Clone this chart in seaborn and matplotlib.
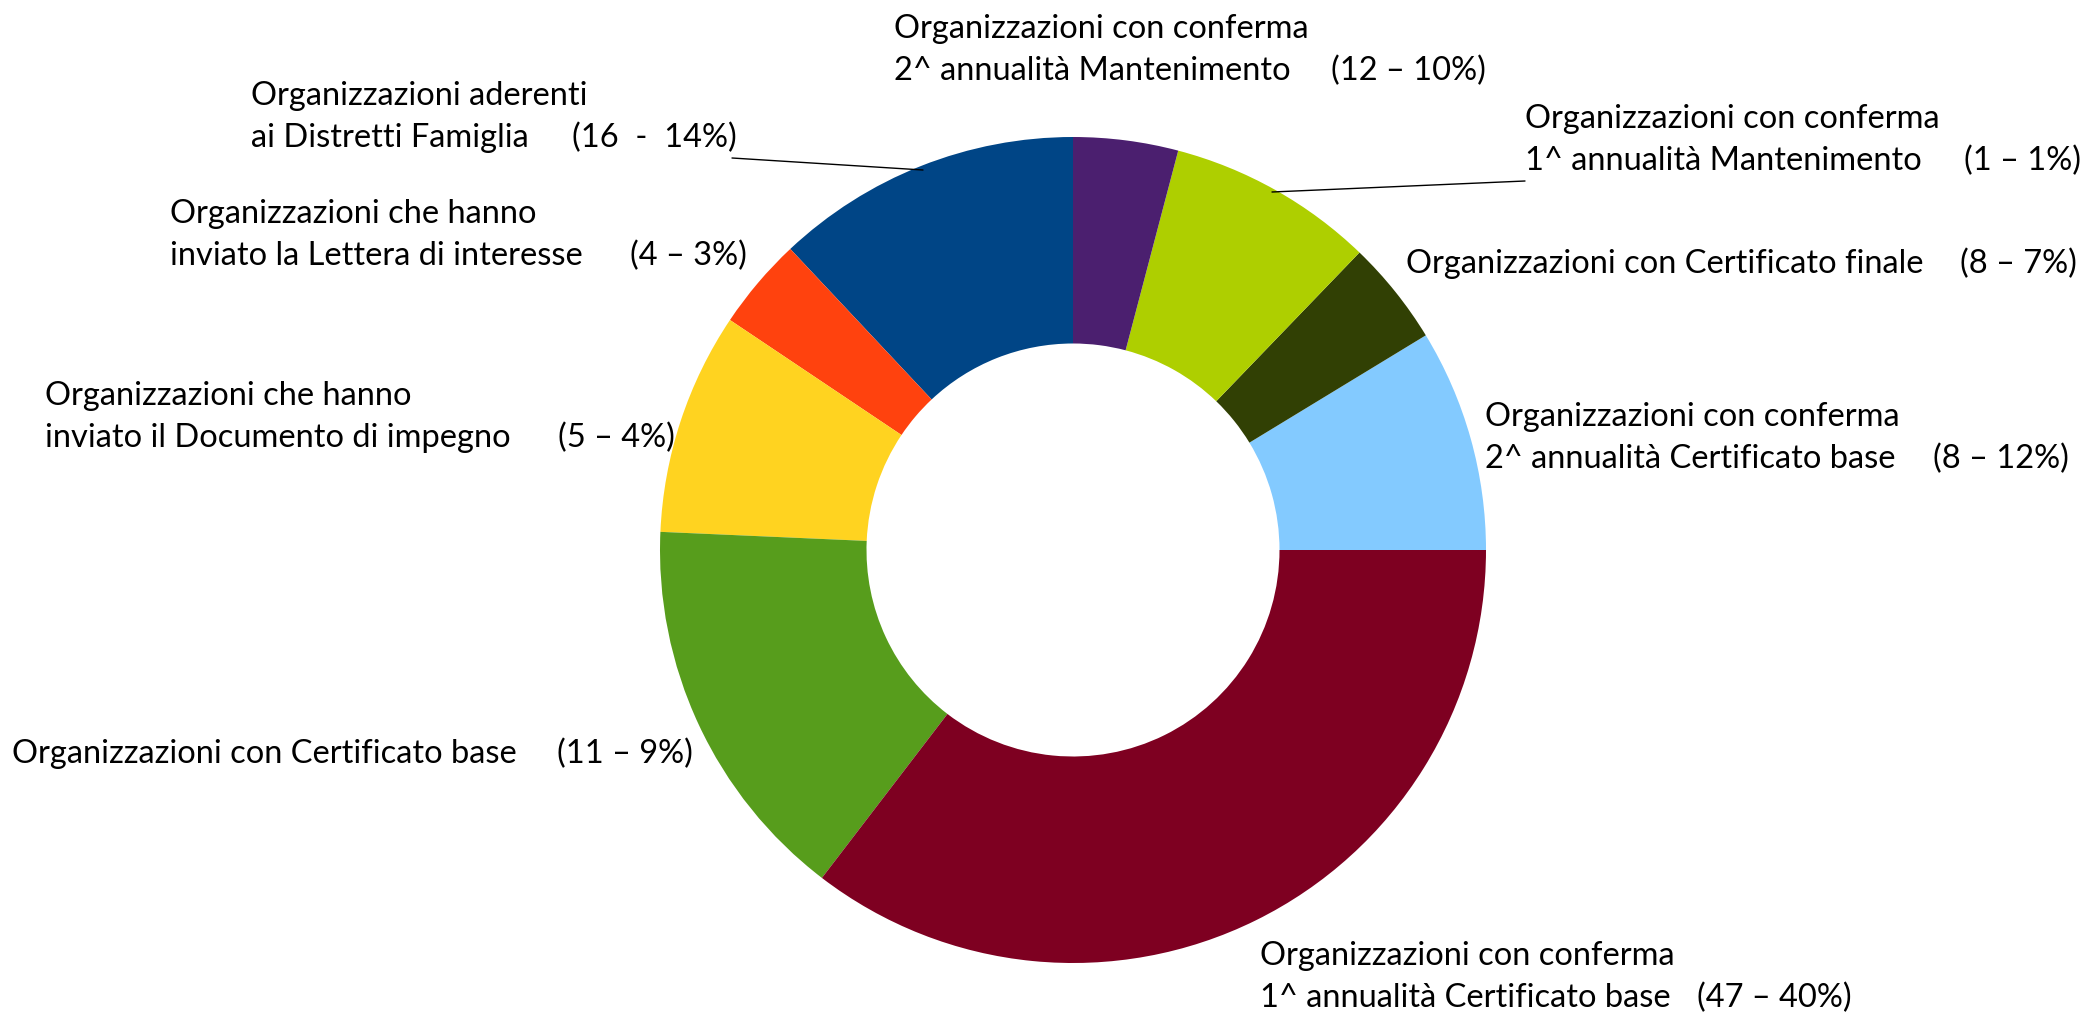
import matplotlib.pyplot as plt
import seaborn as sns

# slice shares (percent of the ring), in drawing order
# (counter-clockwise from 12 o'clock, as the spreadsheet drew them)
shares = [12.0, 3.6, 8.7, 15.3, 35.4, 8.7, 4.1, 8.1, 4.1]
colors = ["#004586", "#ff420e", "#ffd320", "#579d1c", "#7e0021",
          "#83caff", "#314004", "#aecf00", "#4b1f6f"]

label_lines = [
    ["Organizzazioni aderenti", "ai Distretti Famiglia"],
    ["Organizzazioni che hanno", "inviato la Lettera di interesse"],
    ["Organizzazioni che hanno", "inviato il Documento di impegno"],
    ["Organizzazioni con Certificato base"],
    ["Organizzazioni con conferma", "1^ annualità Certificato base"],
    ["Organizzazioni con conferma", "2^ annualità Certificato base"],
    ["Organizzazioni con Certificato finale"],
    ["Organizzazioni con conferma", "1^ annualità Mantenimento"],
    ["Organizzazioni con conferma", "2^ annualità Mantenimento"],
]
counts = ["(16  -  14%)", "(4 – 3%)", "(5 – 4%)", "(11 – 9%)", "(47 – 40%)",
          "(8 – 12%)", "(8 – 7%)", "(1 – 1%)", "(12 – 10%)"]

# label placement in pixels: text left x, count left x, y of first line
label_pos = [
    (251, 572, 96), (170, 630, 214), (45, 558, 396), (12, 557, 754),
    (1260, 1697, 956), (1485, 1933, 417), (1406, 1960, 264),
    (1525, 1964, 119), (894, 1331, 29),
]
leaders = [((732, 158), (923, 170)), ((1272, 192), (1525, 181))]

W, H = 2082, 1016
sns.set_theme(style="white")
plt.rcParams["font.family"] = ["Lato", "DejaVu Sans"]

fig = plt.figure(figsize=(W / 100, H / 100), dpi=100)
ax = fig.add_axes([0, 0, 1, 1])

R = 413
ax.pie(shares, colors=colors, startangle=90, counterclock=True,
       radius=R, center=(1073, H - 550),
       wedgeprops=dict(width=R * 0.5, linewidth=0))

line_gap = 42
for lines, cnt, (x0, xc, y0) in zip(label_lines, counts, label_pos):
    for i, txt in enumerate(lines):
        ax.text(x0, H - (y0 + i * line_gap), txt, fontsize=23.5,
                ha="left", va="center", color="black")
    ax.text(xc, H - (y0 + (len(lines) - 1) * line_gap), cnt, fontsize=23.5,
            ha="left", va="center", color="black")

for (xa, ya), (xb, yb) in leaders:
    ax.plot([xa, xb], [H - ya, H - yb], color="black", lw=1)

ax.set_xlim(0, W)
ax.set_ylim(0, H)
ax.set_aspect("equal")
ax.axis("off")

fig.savefig("out.png", dpi=100, facecolor="white")
